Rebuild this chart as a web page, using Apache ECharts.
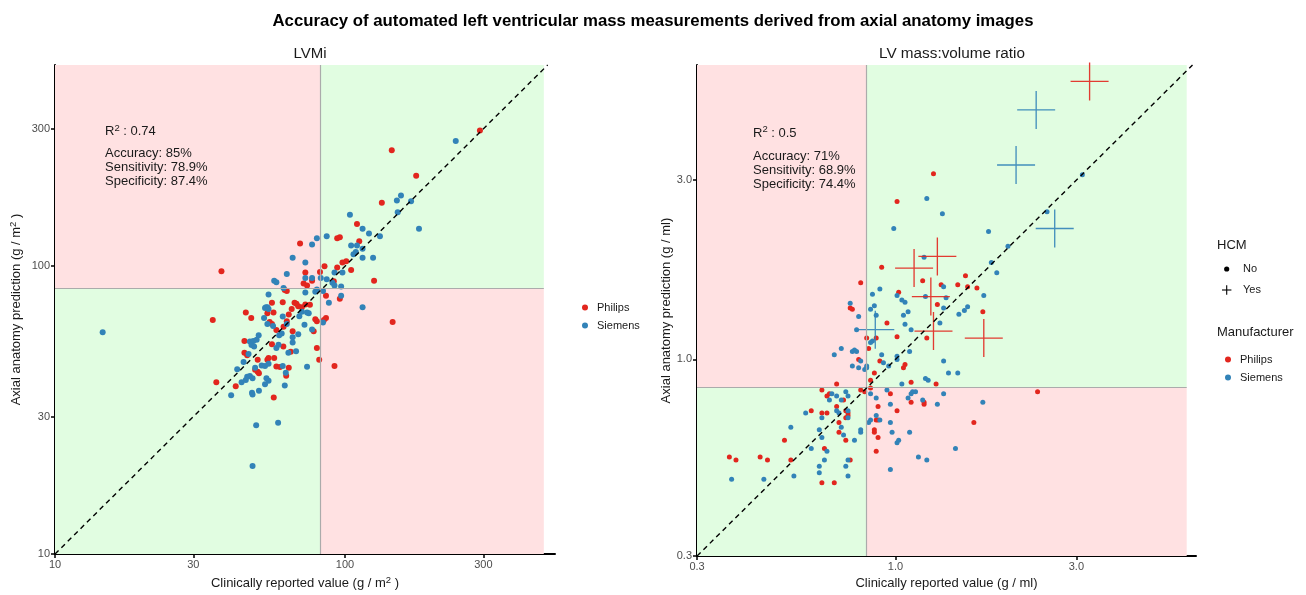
<!DOCTYPE html>
<html>
<head>
<meta charset="utf-8">
<script src="https://cdn.jsdelivr.net/npm/echarts@6/dist/echarts.min.js"></script>
<style>
  html, body { margin: 0; padding: 0; background: #fff; }
  #chart { width: 1306px; height: 595px; }
</style>
</head>
<body>
<div id="chart"></div>
<script>
// LVMi panel (g/m2): [clinical, predicted]
const lvmiPhilips = [
  [145,253],[176,206],[134,166],[110,140],[94,125],[96,126],[70,120],[112,122],[98,103],[101,104],
  [85,100],[73,95],[94,99],[105,97],[37.5,96],[77,89],[82,95.5],[126,89],[91.5,88.6],[72,87],
  [74,85.6],[62,82.7],[63,82],[86,79],[96,77],[56,74.7],[61,75],[35,65],[45.5,69],[47.5,66],
  [67,74.7],[68,74],[69,72.6],[71,72],[73,73.6],[65.5,71],[75.7,73.4],[54,68.6],[56.7,69],[55,64],
  [56,63],[64,68],[63,64.4],[79,65.4],[80,64.4],[86,66],[84.6,65],[58,60],[61.4,61.6],[66,59.4],
  [78,59.4],[45,55],[56,53.5],[61.3,52.6],[65,50.4],[45,50],[46,49],[80,52],[81.5,47.3],[92,45],
  [50,47.3],[54,47.3],[54.5,48],[57,48],[58,44.8],[59.7,44.6],[64,44.4],[62.7,41.6],[50,43],[50.5,42.5],
  [49,43.7],[36,39.5],[42,38.3],[56.8,35],[292,296],[146,64]
];
const lvmiSiemens = [
  [156,176],[151,169],[169,168],[152,154],[104,151],[180,135],[115,135],[121,130],[132,127],[86.5,127],
  [80,125],[77,119],[105,118],[110,118],[115,115],[107,110],[109,112],[125,107],[115,107],[66,107],
  [73,103],[63,94],[92,95],[98,95],[73,91],[77,91],[86.5,90],[90.5,87.6],[92,85.6],[97,85],
  [57,89],[58,88],[82.5,91],[61.4,84],[73,81],[79,81.5],[80,83],[84,82],[97,79],[115,72],
  [88,74.7],[54.5,79.7],[53.4,72],[54,72],[74,69],[75,68.6],[53,71.6],[54.5,71],[52.6,66],[61,66.8],
  [54,63],[56.5,62],[63,63],[69.6,67],[71,69.5],[72.5,62.6],[84,63.7],[60.5,58.4],[59.3,57.6],[66,56.6],
  [69,58],[77,60.3],[47,54.7],[48.3,55],[49.6,55.5],[50.4,57.6],[47.6,53.2],[48.6,52.6],[58,52],[59,53.3],
  [66,54.3],[67.8,50.6],[63.8,50],[44.7,46.5],[46.5,49.5],[51.6,45.2],[53,45],[54.5,45.8],[61,45],[62.5,42.6],
  [49,44.4],[42.5,43.8],[46,41.3],[47,41.5],[48,40.8],[44,39.5],[45.5,40.2],[53.6,40.8],[54.5,40],[53,38.9],
  [74,44.7],[62,38.5],[40.5,35.6],[47.8,36.3],[48,35.8],[50.5,36.9],[49.4,28],[58.8,28.6],[48,20.2],[14.6,59],
  [241,272]
];

// LV mass:volume ratio panel (g/ml): [clinical, predicted]
const ratioPhilips = [
  [1.26,3.12],[1.01,2.63],[0.92,1.76],[1.18,1.62],[1.53,1.67],[1.32,1.58],[1.46,1.58],[1.55,1.56],[1.64,1.55],[1.02,1.51],
  [0.81,1.60],[0.76,1.37],[0.77,1.36],[1.29,1.40],[1.70,1.34],[0.95,1.25],[1.01,1.15],[1.21,1.14],[0.89,1.14],[0.84,1.14],
  [0.85,1.07],[0.91,0.99],[0.80,1.0],[0.88,0.92],[1.05,0.95],[1.06,0.97],[1.10,0.87],[0.86,0.88],[1.28,0.86],[0.70,0.86],
  [0.64,0.83],[0.66,0.80],[0.67,0.81],[0.73,0.78],[0.81,0.83],[0.83,0.82],[0.86,0.84],[0.97,0.81],[1.10,0.77],[1.19,0.76],
  [1.19,0.77],[0.90,0.75],[1.01,0.73],[0.60,0.73],[0.64,0.72],[0.66,0.72],[0.70,0.75],[0.74,0.73],[0.75,0.72],[0.75,0.71],
  [0.74,0.70],[0.71,0.68],[0.71,0.64],[0.74,0.61],[0.89,0.69],[0.90,0.69],[0.88,0.65],[0.88,0.64],[0.90,0.62],[1.61,0.68],
  [0.89,0.57],[0.51,0.61],[0.65,0.58],[0.53,0.54],[0.76,0.54],[0.44,0.55],[0.46,0.54],[0.64,0.47],[0.69,0.47],[0.365,0.55],
  [0.38,0.54],[2.37,0.82]
];
const ratioSiemens = [
  [3.11,3.10],[1.21,2.68],[1.33,2.44],[2.51,2.47],[0.99,2.23],[1.76,2.19],[1.98,2.0],[1.19,1.87],[1.79,1.81],[1.85,1.70],
  [1.34,1.56],[0.91,1.54],[0.87,1.49],[1.01,1.48],[1.04,1.44],[1.06,1.42],[1.20,1.47],[1.36,1.46],[1.71,1.48],[0.76,1.41],
  [0.80,1.30],[0.86,1.36],[0.88,1.39],[0.89,1.31],[1.34,1.37],[1.08,1.34],[1.05,1.31],[1.55,1.38],[1.52,1.35],[1.47,1.32],
  [1.06,1.24],[1.10,1.20],[1.31,1.25],[0.79,1.20],[0.87,1.12],[0.86,1.11],[0.92,1.03],[1.01,1.02],[1.09,1.05],[0.72,1.07],
  [0.69,1.03],[0.77,1.05],[0.78,1.06],[0.79,1.05],[1.34,0.99],[0.81,0.99],[1.01,1.0],[0.93,0.98],[0.77,0.96],[0.80,0.95],
  [0.83,0.94],[0.84,0.95],[0.84,0.96],[0.96,0.96],[1.04,0.86],[1.20,0.89],[1.22,0.88],[1.38,0.92],[1.46,0.92],[0.68,0.81],
  [0.70,0.80],[0.72,0.78],[0.74,0.82],[0.75,0.80],[0.67,0.78],[0.86,0.81],[0.89,0.79],[0.95,0.83],[1.08,0.79],[1.10,0.81],
  [1.11,0.82],[1.13,0.82],[1.34,0.81],[1.18,0.78],[1.29,0.76],[1.70,0.77],[0.97,0.76],[0.58,0.72],[0.64,0.70],[0.70,0.73],
  [0.71,0.72],[0.75,0.73],[0.75,0.70],[0.72,0.66],[0.53,0.66],[0.63,0.65],[0.64,0.62],[0.73,0.63],[0.78,0.61],[0.81,0.64],
  [0.81,0.65],[0.85,0.68],[0.86,0.69],[0.91,0.69],[0.89,0.71],[0.97,0.68],[0.98,0.64],[1.01,0.60],[1.02,0.61],[1.09,0.64],
  [1.44,0.58],[1.15,0.55],[1.21,0.54],[0.97,0.51],[0.60,0.58],[0.66,0.57],[0.65,0.54],[0.75,0.54],[0.74,0.52],[0.63,0.52],
  [0.63,0.50],[0.45,0.48],[0.54,0.49],[0.75,0.49],[0.37,0.48]
];
// HCM = Yes cases (plotted as crosses)
const ratioHcmPhilips = [[3.25,5.49],[1.29,1.88],[1.12,1.75],[1.24,1.47],[1.26,1.19],[1.71,1.14]];
const ratioHcmSiemens = [[2.35,4.61],[2.08,3.29],[2.63,2.23],[0.885,1.20]];

// axis ticks, limits and thresholds
const lvmiTicks = [10, 30, 100, 300];
const ratioTicks = [0.3, 1, 3];
const lvmiXRange = [10, 530];
const lvmiYRange = [10, 500];
const ratioXRange = [0.2999, 6.2];
const ratioYRange = [0.2999, 6.07];
const lvmiThreshold = [82, 84];
const ratioThreshold = [0.838, 0.844];
const lvmiZoneMax = [485, 500];
const ratioZoneMax = [5.86, 6.07];

const lvmiStats = ['0.74', 'Accuracy: 85%', 'Sensitivity: 78.9%', 'Specificity: 87.4%'];
const ratioStats = ['0.5', 'Accuracy: 71%', 'Sensitivity: 68.9%', 'Specificity: 74.4%'];

const FONT = 'Liberation Sans, Arial, Helvetica, sans-serif';
const RED = '#E2261E';
const BLUE = '#3283B8';
const PINK = '#FFE1E2';
const GREEN = '#E1FDE1';
const SUP = { sup: { fontSize: 9.5, padding: [0, 0, 7, 0], fontFamily: FONT, color: '#1a1a1a' } };

function logAxis(gridIndex, range, ticks, fmt, name, nameGap) {
  return {
    type: 'log', logBase: 10, gridIndex: gridIndex,
    min: range[0], max: range[1],
    name: name, nameLocation: 'middle', nameGap: nameGap,
    nameTextStyle: { fontSize: 13, color: '#1a1a1a', fontFamily: FONT, rich: SUP },
    splitLine: { show: false },
    minorTick: { show: false },
    axisLine: { show: true, onZero: false, lineStyle: { color: '#000', width: 2 } },
    axisTick: { show: true, length: 4, lineStyle: { color: '#000', width: 1.5 }, customValues: ticks },
    axisLabel: { show: true, color: '#4d4d4d', fontSize: 11, fontFamily: FONT, margin: 5, customValues: ticks, formatter: fmt }
  };
}

// background zones + threshold lines for one panel
function zoneSeries(idx, xr, yr, thr, zmax) {
  return {
    type: 'scatter', xAxisIndex: idx, yAxisIndex: idx, data: [], silent: true, z: 1,
    markArea: {
      silent: true,
      data: [
        [{ coord: [xr[0], thr[1]], itemStyle: { color: PINK } }, { coord: [thr[0], zmax[1]] }],
        [{ coord: [thr[0], thr[1]], itemStyle: { color: GREEN } }, { coord: [zmax[0], zmax[1]] }],
        [{ coord: [xr[0], yr[0]], itemStyle: { color: GREEN } }, { coord: [thr[0], thr[1]] }],
        [{ coord: [thr[0], yr[0]], itemStyle: { color: PINK } }, { coord: [zmax[0], thr[1]] }]
      ]
    },
    markLine: {
      silent: true, symbol: ['none', 'none'], label: { show: false },
      lineStyle: { color: '#ababab', width: 1.2, type: 'solid' },
      data: [
        [{ coord: [thr[0], yr[0]] }, { coord: [thr[0], zmax[1]] }],
        [{ coord: [xr[0], thr[1]] }, { coord: [zmax[0], thr[1]] }]
      ]
    }
  };
}

function identitySeries(idx, lo, hi) {
  return {
    type: 'scatter', xAxisIndex: idx, yAxisIndex: idx, data: [], silent: true, z: 5,
    markLine: {
      silent: true, symbol: ['none', 'none'], label: { show: false },
      lineStyle: { color: '#000', width: 1.4, type: [5, 4] },
      data: [[{ coord: [lo, lo] }, { coord: [hi, hi] }]]
    }
  };
}

function dots(name, idx, data, color, size) {
  return {
    name: name, type: 'scatter', xAxisIndex: idx, yAxisIndex: idx, z: 3,
    data: data, symbol: 'circle', symbolSize: size,
    itemStyle: { color: color, opacity: 1 }
  };
}

const PLUS = 'path://M9.65,0H10.35V9.65H20V10.35H10.35V20H9.65V10.35H0V9.65H9.65Z';
function crosses(name, data, color) {
  return {
    name: name, type: 'scatter', xAxisIndex: 1, yAxisIndex: 1, z: 4,
    data: data, symbol: PLUS, symbolSize: 38,
    itemStyle: { color: color, opacity: 0.9 }
  };
}

function statsText(x, yR2, yStats, stats) {
  return [
    { type: 'text', x: x, y: yR2, z: 100,
      style: { text: 'R{sup|2} : ' + stats[0], font: '13px ' + FONT, fill: '#1a1a1a', verticalAlign: 'middle', rich: SUP } },
    { type: 'text', x: x, y: yStats, z: 100,
      style: { text: stats.slice(1).join('\n'), font: '13px ' + FONT, fill: '#1a1a1a', lineHeight: 14, verticalAlign: 'top' } }
  ];
}

const chart = echarts.init(document.getElementById('chart'), null, { renderer: 'canvas' });
chart.setOption({
  animation: false,
  backgroundColor: '#fff',
  textStyle: { fontFamily: FONT },
  title: [
    { text: 'Accuracy of automated left ventricular mass measurements derived from axial anatomy images',
      left: 'center', top: 8, textStyle: { fontSize: 16.8, fontWeight: 'bold', color: '#000', fontFamily: FONT } },
    { text: 'LVMi', left: 305, textAlign: 'center', top: 41,
      textStyle: { fontSize: 15, fontWeight: 'normal', color: '#1a1a1a', fontFamily: FONT } },
    { text: 'LV mass:volume ratio', left: 947, textAlign: 'center', top: 41,
      textStyle: { fontSize: 15.3, fontWeight: 'normal', color: '#1a1a1a', fontFamily: FONT } }
  ],
  grid: [
    { left: 55, right: 751, top: 65, bottom: 38, containLabel: false },
    { left: 697, right: 110, top: 65, bottom: 35, containLabel: false }
  ],
  xAxis: [
    logAxis(0, lvmiXRange, lvmiTicks, v => String(v), 'Clinically reported value (g / m{sup|2} )', 21),
    logAxis(1, ratioXRange, ratioTicks, v => v.toFixed(1), 'Clinically reported value (g / ml)', 18)
  ],
  yAxis: [
    logAxis(0, lvmiYRange, lvmiTicks, v => String(v), 'Axial anatomy prediction (g / m{sup|2} )', 30),
    logAxis(1, ratioYRange, ratioTicks, v => v.toFixed(1), 'Axial anatomy prediction (g / ml)', 23)
  ],
  legend: [
    { data: ['Philips', 'Siemens'], orient: 'vertical', left: 577, top: 297, icon: 'circle',
      itemWidth: 14, itemHeight: 6, itemGap: 7, itemTextGap: 10, selectedMode: false,
      textStyle: { fontSize: 11, color: '#1a1a1a', fontFamily: FONT } },
    { data: ['Philips', 'Siemens'], orient: 'vertical', left: 1220, top: 349, icon: 'circle',
      itemWidth: 14, itemHeight: 6, itemGap: 7, itemTextGap: 9, selectedMode: false,
      textStyle: { fontSize: 11, color: '#1a1a1a', fontFamily: FONT } }
  ],
  graphic: [
    ...statsText(105, 131.7, 146, lvmiStats),
    ...statsText(753, 133.3, 149, ratioStats),
    { type: 'text', x: 1217, y: 245, style: { text: 'HCM', font: '13px ' + FONT, fill: '#1a1a1a', verticalAlign: 'middle' } },
    { type: 'circle', shape: { cx: 1226.7, cy: 269, r: 2.6 }, style: { fill: '#000' } },
    { type: 'text', x: 1243, y: 269, style: { text: 'No', font: '11px ' + FONT, fill: '#1a1a1a', verticalAlign: 'middle' } },
    { type: 'line', shape: { x1: 1222, y1: 290, x2: 1231.4, y2: 290 }, style: { stroke: '#000', lineWidth: 1.1 } },
    { type: 'line', shape: { x1: 1226.7, y1: 285.3, x2: 1226.7, y2: 294.7 }, style: { stroke: '#000', lineWidth: 1.1 } },
    { type: 'text', x: 1243, y: 290, style: { text: 'Yes', font: '11px ' + FONT, fill: '#1a1a1a', verticalAlign: 'middle' } },
    { type: 'text', x: 1217, y: 332.7, style: { text: 'Manufacturer', font: '13px ' + FONT, fill: '#1a1a1a', verticalAlign: 'middle' } }
  ],
  series: [
    zoneSeries(0, lvmiXRange, lvmiYRange, lvmiThreshold, lvmiZoneMax),
    zoneSeries(1, ratioXRange, ratioYRange, ratioThreshold, ratioZoneMax),
    dots('Philips', 0, lvmiPhilips, RED, 6),
    dots('Siemens', 0, lvmiSiemens, BLUE, 6),
    dots('Philips', 1, ratioPhilips, RED, 5),
    dots('Siemens', 1, ratioSiemens, BLUE, 5),
    crosses('Philips HCM', ratioHcmPhilips, RED),
    crosses('Siemens HCM', ratioHcmSiemens, BLUE),
    identitySeries(0, 10, 500),
    identitySeries(1, 0.3, 6.07)
  ]
});
</script>
</body>
</html>
